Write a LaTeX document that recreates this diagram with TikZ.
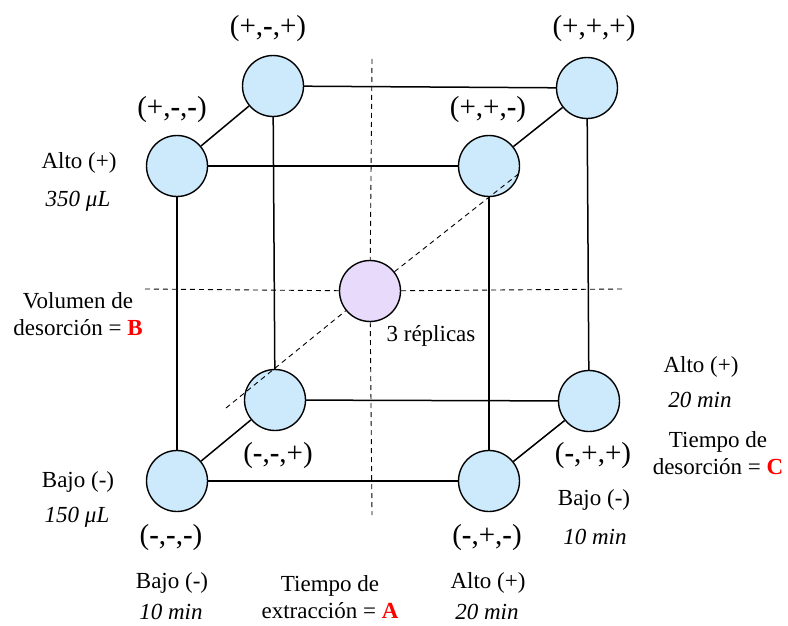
\documentclass[tikz,border=0pt]{standalone}
\usepackage{fontspec}
\setmainfont{Liberation Serif}
\usetikzlibrary{positioning}
\definecolor{runblue}{HTML}{CCEAFB}
\definecolor{runlilac}{HTML}{E8DAFA}
\tikzset{
  run/.style={circle, draw=black, line width=1.4pt, fill=runblue, minimum size=61pt, inner sep=0pt},
  centrerun/.style={run, fill=runlilac},
  edge/.style={draw=black, line width=1.5pt},
  guide/.style={draw=black, line width=0.9pt, dash pattern=on 5pt off 4pt},
  code/.style={font=\fontsize{29}{32}\selectfont},
  note/.style={font=\fontsize{23}{27}\selectfont, align=center},
  level/.style={font=\fontsize{23}{27}\selectfont\itshape}
}
\newcommand{\mn}{\textbf{-}}
\newcommand{\factor}[1]{\textcolor{red}{\textbf{#1}}}

\begin{document}
\begin{tikzpicture}[x=1pt,y=-1pt]
  \useasboundingbox (0,0) rectangle (788,626);
  % cube corners: (volumen, extraccion, desorcion)
  \node[run] (pmm) at (177,166) {};
  \node[run] (ppm) at (489,166) {};
  \node[run] (mmm) at (177,481) {};
  \node[run] (mpm) at (489,481) {};
  \node[run] (pmp) at (273,86) {};
  \node[run] (ppp) at (587,88) {};
  \node[run] (mmp) at (275,400) {};
  \node[run] (mpp) at (589,401) {};
  \draw[edge] (pmm) -- (ppm) -- (mpm) -- (mmm) -- (pmm);
  \draw[edge] (pmp) -- (ppp) -- (mpp) -- (mmp) -- (pmp);
  \draw[edge] (pmm) -- (pmp);
  \draw[edge] (ppm) -- (ppp);
  \draw[edge] (mmm) -- (mmp);
  \draw[edge] (mpm) -- (mpp);
  % centre point and guide lines
  \node[centrerun] (rep) at (370,291) {};
  \coordinate (hl) at (145,289);
  \coordinate (hr) at (622,289);
  \coordinate (vt) at (372,59);
  \coordinate (vb) at (372,515);
  \coordinate (dl) at (226,408);
  \coordinate (dr) at (521,172);
  \draw[guide] (hl) -- (rep) -- (hr);
  \draw[guide] (vt) -- (rep) -- (vb);
  \draw[guide] (dl) -- (rep) -- (dr);
  \node[note] (nrep) at (431,336) {3 réplicas};
  % corner codes
  \node[code] (lpmp) at (268,29) {(+,\mn,+)};
  \node[code] (lppp) at (594,29) {(+,+,+)};
  \node[code] (lpmm) at (172,110) {(+,\mn,\mn)};
  \node[code] (lppm) at (488,110) {(+,+,\mn)};
  \node[code] (lmmp) at (278,456) {(\mn,\mn,+)};
  \node[code] (lmpp) at (593,456) {(\mn,+,+)};
  \node[code] (lmmm) at (171,538) {(\mn,\mn,\mn)};
  \node[code] (lmpm) at (487,538) {(\mn,+,\mn)};
  % volumen de desorcion
  \node[note] (bhi) at (79,163) {Alto (+)};
  \node[level] (bhiv) at (78,201) {350 μL};
  \node[note] (bname) at (78,314) {Volumen de\\desorción = \factor{B}};
  \node[note] (blo) at (78,482) {Bajo (-)};
  \node[level] (blov) at (77,517) {150 μL};
  % tiempo de extraccion
  \node[note] (alo) at (172,583) {Bajo (-)};
  \node[level] (alov) at (171,612) {10 min};
  \node[note] (aname) at (330,597) {Tiempo de\\extracción = \factor{A}};
  \node[note] (ahi) at (488,583) {Alto (+)};
  \node[level] (ahiv) at (487,612) {20 min};
  % tiempo de desorcion
  \node[note] (chi) at (701,367) {Alto (+)};
  \node[level] (chiv) at (700,400) {20 min};
  \node[note] (cname) at (718,453) {Tiempo de\\desorción = \factor{C}};
  \node[note] (clo) at (594,500) {Bajo (-)};
  \node[level] (clov) at (595,537) {10 min};
\end{tikzpicture}
\end{document}
